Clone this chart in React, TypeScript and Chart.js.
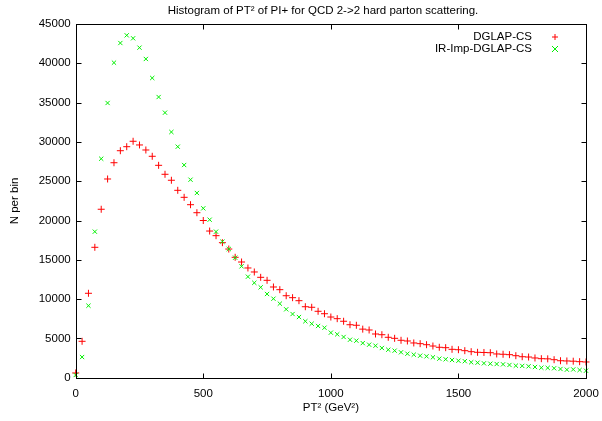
import React, { useEffect, useRef } from "react";
import { Chart, registerables } from "chart.js";

Chart.register(...registerables);

const binCentres: number[] = [
  0, 25, 50, 75, 100, 125, 150, 175, 200, 225, 250, 275, 300, 325, 350, 375, 400, 425, 450, 475,
  500, 525, 550, 575, 600, 625, 650, 675, 700, 725, 750, 775, 800, 825, 850, 875, 900, 925, 950, 975,
  1000, 1025, 1050, 1075, 1100, 1125, 1150, 1175, 1200, 1225, 1250, 1275, 1300, 1325, 1350, 1375,
  1400, 1425, 1450, 1475, 1500, 1525, 1550, 1575, 1600, 1625, 1650, 1675, 1700, 1725, 1750, 1775,
  1800, 1825, 1850, 1875, 1900, 1925, 1950, 1975, 2000,
];

const dglapCS: number[] = [
  600, 4630, 10740, 16590, 21430, 25280, 27350, 28880, 29390, 30080, 29610, 28970, 28170, 27020,
  25880, 25120, 23840, 22950, 22010, 20990, 20000, 18660, 18070, 17180, 16370, 15320, 14720, 13960,
  13450, 12770, 12390, 11540, 11200, 10430, 10180, 9800, 9030, 8960, 8450, 8140, 7720, 7510, 7180,
  6740, 6670, 6180, 6070, 5560, 5470, 5140, 5010, 4760, 4670, 4420, 4330, 4200, 4030, 3870, 3820,
  3610, 3560, 3440, 3310, 3230, 3210, 3180, 3020, 2980, 2930, 2800, 2670, 2630, 2510, 2420, 2400,
  2290, 2160, 2130, 2100, 2040, 2000,
];

const irImpDglapCS: number[] = [
  340, 2630, 9160, 18580, 27860, 34950, 40080, 42580, 43560, 43180, 41990, 40550, 38130, 35710,
  33720, 31260, 29390, 27060, 25190, 23500, 21550, 20100, 18580, 17300, 16370, 15270, 14170, 12850,
  12070, 11500, 10650, 10050, 9420, 8700, 8100, 7720, 7180, 6870, 6580, 6360, 5730, 5520, 5180,
  4830, 4710, 4400, 4200, 4070, 3780, 3560, 3440, 3230, 3050, 2930, 2800, 2720, 2600, 2420, 2340,
  2250, 2160, 2100, 1960, 1910, 1830, 1780, 1740, 1700, 1620, 1530, 1500, 1450, 1360, 1270, 1250,
  1200, 1110, 1020, 1050, 980, 890,
];

const seriesNames: string[] = ["DGLAP-CS", "IR-Imp-DGLAP-CS"];
const chartTitle = "Histogram of PT\u00B2 of PI+ for QCD 2->2 hard parton scattering.";
const xTitle = "PT\u00B2 (GeV\u00B2)";
const yTitle = "N per bin";
const xTickValues: number[] = [0, 500, 1000, 1500, 2000];
const yTickValues: number[] = [0, 5000, 10000, 15000, 20000, 25000, 30000, 35000, 40000, 45000];

const RED = "#ff0000";
const GREEN = "#00f000";
const FONT = "'Liberation Sans', Arial, sans-serif";
const TEXT_SIZE = 11.5;

function drawMarker(ctx: CanvasRenderingContext2D, kind: string, x: number, y: number, r: number, color: string) {
  ctx.save();
  ctx.strokeStyle = color;
  ctx.lineWidth = 1;
  ctx.beginPath();
  if (kind === "cross") {
    ctx.moveTo(x - r, y);
    ctx.lineTo(x + r, y);
    ctx.moveTo(x, y - r);
    ctx.lineTo(x, y + r);
  } else {
    ctx.moveTo(x - r, y - r);
    ctx.lineTo(x + r, y + r);
    ctx.moveTo(x - r, y + r);
    ctx.lineTo(x + r, y - r);
  }
  ctx.stroke();
  ctx.restore();
}

const framePlugin = {
  id: "gnuplotFrame",
  afterDraw(chart: any) {
    const ctx: CanvasRenderingContext2D = chart.ctx;
    const { left, right, top, bottom } = chart.chartArea;
    const xs = chart.scales.x;
    const ys = chart.scales.y;
    ctx.save();
    ctx.strokeStyle = "#000";
    ctx.lineWidth = 1;
    const L = Math.round(left) + 0.5;
    const R = Math.round(right) + 0.5;
    const T = Math.round(top) + 0.5;
    const B = Math.round(bottom) + 0.5;
    ctx.strokeRect(L, T, R - L, B - T);
    const tl = 5;
    ctx.beginPath();
    for (const v of yTickValues) {
      const py = Math.round(ys.getPixelForValue(v)) + 0.5;
      ctx.moveTo(L, py);
      ctx.lineTo(L + tl, py);
      ctx.moveTo(R, py);
      ctx.lineTo(R - tl, py);
    }
    for (const v of xTickValues) {
      const px = Math.round(xs.getPixelForValue(v)) + 0.5;
      ctx.moveTo(px, B);
      ctx.lineTo(px, B - tl);
      ctx.moveTo(px, T);
      ctx.lineTo(px, T + tl);
    }
    ctx.stroke();

    ctx.fillStyle = "#000";
    ctx.font = `${TEXT_SIZE}px ${FONT}`;
    ctx.textAlign = "center";
    ctx.textBaseline = "middle";
    ctx.fillText(chartTitle, 323, 11);
    ctx.fillText(xTitle, (left + right) / 2, 408);
    ctx.save();
    ctx.translate(15, 201);
    ctx.rotate(-Math.PI / 2);
    ctx.fillText(yTitle, 0, 0);
    ctx.restore();

    ctx.textAlign = "right";
    ctx.fillText(seriesNames[0], 532, 37);
    ctx.fillText(seriesNames[1], 532, 49);
    ctx.restore();
    drawMarker(ctx, "cross", 555, 37, 3, RED);
    drawMarker(ctx, "crossRot", 555, 49, 3, GREEN);
  },
};

export default function App() {
  const ref = useRef<HTMLCanvasElement | null>(null);
  useEffect(() => {
    if (!ref.current) return;
    const chart = new Chart(ref.current, {
      type: "scatter",
      data: {
        datasets: [
          {
            label: seriesNames[1],
            data: binCentres.map((x, i) => ({ x, y: irImpDglapCS[i] })),
            pointStyle: "crossRot",
            pointRadius: 3,
            pointBorderWidth: 1,
            borderColor: GREEN,
            backgroundColor: GREEN,
            showLine: false,
            clip: false as any,
            order: 1,
          },
          {
            label: seriesNames[0],
            data: binCentres.map((x, i) => ({ x, y: dglapCS[i] })),
            pointStyle: "cross",
            pointRadius: 3.5,
            pointBorderWidth: 1,
            borderColor: RED,
            backgroundColor: RED,
            showLine: false,
            clip: false as any,
            order: 2,
          },
        ],
      },
      options: {
        responsive: false,
        animation: false,
        events: [],
        layout: { padding: { left: 0, right: 16, top: 24, bottom: 0 } },
        plugins: {
          legend: { display: false },
          title: { display: false },
          tooltip: { enabled: false },
        },
        scales: {
          x: {
            type: "linear",
            min: 0,
            max: 2000,
            afterBuildTicks: (s: any) => {
              s.ticks = xTickValues.map((v) => ({ value: v }));
            },
            afterFit: (s: any) => {
              s.height = 43.3;
              s.paddingLeft = 0;
              s.paddingRight = 0;
            },
            grid: { display: false, drawTicks: false },
            border: { display: false },
            ticks: {
              color: "#000",
              padding: 9,
              maxRotation: 0,
              autoSkip: false,
              font: { family: FONT, size: TEXT_SIZE },
              callback: (v: any) => String(v),
            },
          },
          y: {
            type: "linear",
            min: 0,
            max: 45000,
            afterBuildTicks: (s: any) => {
              s.ticks = yTickValues.map((v) => ({ value: v }));
            },
            afterFit: (s: any) => {
              s.width = 75.7;
              s.paddingTop = 0;
              s.paddingBottom = 0;
            },
            grid: { display: false, drawTicks: false },
            border: { display: false },
            ticks: {
              color: "#000",
              padding: 5,
              autoSkip: false,
              font: { family: FONT, size: TEXT_SIZE },
              callback: (v: any) => String(v),
            },
          },
        },
      },
      plugins: [framePlugin],
    });
    return () => chart.destroy();
  }, []);
  return (
    <div style={{ position: "absolute", left: 0, top: 0, width: 602, height: 421, background: "#fff" }}>
      <canvas ref={ref} width={602} height={421} />
    </div>
  );
}
